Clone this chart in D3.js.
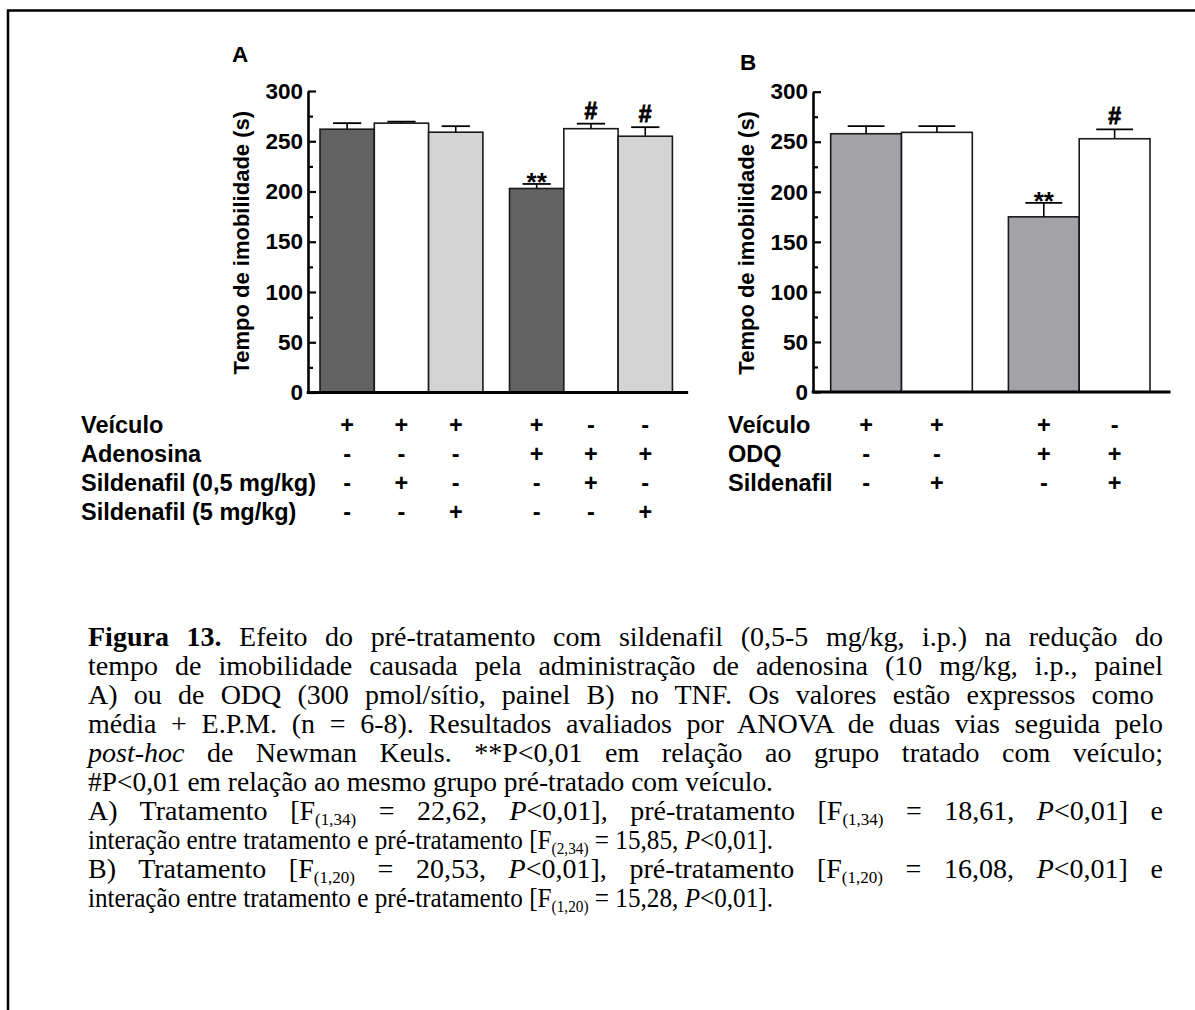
<!DOCTYPE html>
<html>
<head>
<meta charset="utf-8">
<script src="https://cdn.jsdelivr.net/npm/d3@7"></script>
<style>
  body { margin: 0; background: #fff; }
  svg { display: block; }
  .sans { font-family: "Liberation Sans", Arial, sans-serif; font-weight: bold; }
  .serif { font-family: "Liberation Serif", "Times New Roman", serif; white-space: pre; }
</style>
</head>
<body>
<svg id="fig" width="1195" height="1010"></svg>
<script>
// ---- Panel A: adenosine with sildenafil pre-treatment ----
const groupsA = ["Veículo", "Sildenafil 0,5", "Sildenafil 5", "Adenosina", "Adenosina + Sildenafil 0,5", "Adenosina + Sildenafil 5"];
const meansA  = [262, 268, 259, 203, 262.5, 255];
const semA    = [6, 1.5, 6, 4.5, 5, 9];
const blockA  = [0, 0, 0, 1, 1, 1];
const marksA  = ["", "", "", "**", "#", "#"];
const rowLabelsA = ["Veículo", "Adenosina", "Sildenafil (0,5 mg/kg)", "Sildenafil (5 mg/kg)"];
const signsA = [
  ["+", "+", "+", "+", "-", "-"],
  ["-", "-", "-", "+", "+", "+"],
  ["-", "+", "-", "-", "+", "-"],
  ["-", "-", "+", "-", "-", "+"]
];

// ---- Panel B: ODQ with sildenafil pre-treatment ----
const groupsB = ["Veículo", "Sildenafil", "ODQ", "ODQ + Sildenafil"];
const meansB  = [258, 259.4, 175, 253];
const semB    = [7.7, 6.3, 14, 9.4];
const blockB  = [0, 0, 1, 1];
const marksB  = ["", "", "**", "#"];
const rowLabelsB = ["Veículo", "ODQ", "Sildenafil"];
const signsB = [
  ["+", "+", "+", "-"],
  ["-", "-", "+", "+"],
  ["-", "+", "-", "+"]
];

// ---- Shared axis ticks ----
const majorTicks = [0, 50, 100, 150, 200, 250, 300];
const minorTicks = [25, 75, 125, 175, 225, 275];
const yTitle = "Tempo de imobilidade (s)";

// ---- Figure caption ----
const captionLines = [
  { justify: true,  segs: [["Figura 13.", "b"], [" Efeito do pré-tratamento com sildenafil (0,5-5 mg/kg, i.p.) na redução do", ""]] },
  { justify: true,  segs: [["tempo de imobilidade causada pela administração de adenosina (10 mg/kg, i.p., painel", ""]] },
  { justify: true,  segs: [["A)  ou de ODQ (300 pmol/sítio, painel B) no TNF. Os valores estão expressos como", ""]] },
  { justify: true,  segs: [["média + E.P.M. (n = 6-8). Resultados avaliados por ANOVA de duas vias seguida pelo", ""]] },
  { justify: true,  segs: [["post-hoc", "i"], [" de Newman Keuls. **P<0,01 em relação ao grupo tratado com veículo;", ""]] },
  { justify: false, segs: [["#P<0,01 em relação ao mesmo grupo pré-tratado com veículo.", ""]] },
  { justify: true,  segs: [["A) Tratamento [F", ""], ["(1,34)", "sub"], [" = 22,62, ", ""], ["P", "i"], ["<0,01], pré-tratamento [F", ""], ["(1,34)", "sub"], [" = 18,61, ", ""], ["P", "i"], ["<0,01] e", ""]] },
  { justify: false, segs: [["interação entre tratamento e pré-tratamento [F", ""], ["(2,34)", "sub"], [" = 15,85, ", ""], ["P", "i"], ["<0,01].", ""]] },
  { justify: true,  segs: [["B) Tratamento [F", ""], ["(1,20)", "sub"], [" = 20,53, ", ""], ["P", "i"], ["<0,01], pré-tratamento [F", ""], ["(1,20)", "sub"], [" = 16,08, ", ""], ["P", "i"], ["<0,01] e", ""]] },
  { justify: false, segs: [["interação entre tratamento e pré-tratamento [F", ""], ["(1,20)", "sub"], [" = 15,28, ", ""], ["P", "i"], ["<0,01].", ""]] }
];

const svg = d3.select("#fig");

// outer frame (top and left rules)
svg.append("path")
  .attr("d", "M1195,10.5 H8 V1010")
  .attr("fill", "none").attr("stroke", "#000").attr("stroke-width", 2.5);

function drawPanel(p) {
  const g = svg.append("g");
  const n = p.means.length;
  const slots = p.means.map((_, i) => i + p.block[i] * p.gap);
  const span = n + p.gap * d3.max(p.block);
  const x = d3.scaleLinear().domain([0, span]).range([p.barLeft, p.barLeft + span * p.barW]);
  const y = d3.scaleLinear().domain([0, 300]).range([p.y0, p.y300]);

  // bars
  g.selectAll("rect.bar").data(p.means).join("rect")
    .attr("class", "bar")
    .attr("x", (d, i) => x(slots[i]))
    .attr("width", x(1) - x(0))
    .attr("y", d => y(d))
    .attr("height", d => y(0) - y(d))
    .attr("fill", (d, i) => p.fills[i])
    .attr("stroke", "#1a1a1a").attr("stroke-width", 1.6);

  // error bars (mean + SEM) and significance marks
  const capW = (x(1) - x(0)) * 0.52;
  p.means.forEach((m, i) => {
    const cx = x(slots[i] + 0.5);
    const top = y(m + p.sem[i]);
    g.append("line").attr("x1", cx).attr("x2", cx)
      .attr("y1", y(m)).attr("y2", top)
      .attr("stroke", "#000").attr("stroke-width", 1.6);
    g.append("line").attr("x1", cx - capW / 2).attr("x2", cx + capW / 2)
      .attr("y1", top).attr("y2", top)
      .attr("stroke", "#000").attr("stroke-width", 1.8);
    if (p.marks[i]) {
      const isStar = p.marks[i].startsWith("*");
      g.append("text").attr("class", "sans")
        .attr("x", cx).attr("y", top + (isStar ? 7 : -5))
        .attr("text-anchor", "middle")
        .attr("font-size", isStar ? 26 : 23)
        .attr("stroke", isStar ? "none" : "#000").attr("stroke-width", 0.8)
        .text(p.marks[i]);
    }
  });

  // y axis: major ticks with labels, minor ticks without
  const axMajor = d3.axisLeft(y).tickValues(majorTicks)
    .tickSizeInner(-8).tickSizeOuter(0).tickPadding(5);
  const axMinor = d3.axisLeft(y).tickValues(minorTicks)
    .tickSizeInner(-5).tickSizeOuter(0).tickFormat("");
  const ya = g.append("g").attr("transform", `translate(${p.axisX},0)`).call(axMajor);
  ya.select(".domain").attr("stroke-width", 2.6);
  ya.selectAll(".tick line").attr("stroke-width", 2.2);
  ya.selectAll(".tick text").attr("class", "sans").attr("font-size", 22.5).attr("fill", "#000");
  const ym = g.append("g").attr("transform", `translate(${p.axisX},0)`).call(axMinor);
  ym.select(".domain").remove();
  ym.selectAll(".tick line").attr("stroke-width", 2.2);

  // x baseline
  g.append("line")
    .attr("x1", p.axisX - 1.3).attr("x2", x(span + 0.29))
    .attr("y1", y(0)).attr("y2", y(0))
    .attr("stroke", "#000").attr("stroke-width", 2.8);

  // y title
  g.append("text").attr("class", "sans")
    .attr("font-size", 22)
    .attr("text-anchor", "middle")
    .attr("transform", `translate(${p.titleX},${(y(0) + y(300)) / 2 + 1}) rotate(-90)`)
    .attr("dy", "0.35em")
    .text(yTitle);

  // panel letter
  g.append("text").attr("class", "sans").attr("font-size", 22.5)
    .attr("x", p.letterX).attr("y", p.letterY).text(p.letter);

  // treatment table
  p.rowLabels.forEach((lab, r) => {
    const by = p.tableY + r * 29;
    g.append("text").attr("class", "sans").attr("font-size", 23.5)
      .attr("x", p.tableX).attr("y", by).text(lab);
    p.signs[r].forEach((s, i) => {
      g.append("text").attr("class", "sans").attr("font-size", 23.5)
        .attr("text-anchor", "middle")
        .attr("x", x(slots[i] + 0.5)).attr("y", by).text(s);
    });
  });
}

drawPanel({
  means: meansA, sem: semA, block: blockA, marks: marksA,
  fills: ["#626262", "#ffffff", "#d4d4d4", "#626262", "#ffffff", "#d4d4d4"],
  gap: 0.49, barLeft: 320, barW: 54.3, axisX: 308, y0: 392.5, y300: 91,
  titleX: 241, letter: "A", letterX: 232, letterY: 62,
  rowLabels: rowLabelsA, signs: signsA, tableX: 81, tableY: 433
});

drawPanel({
  means: meansB, sem: semB, block: blockB, marks: marksB,
  fills: ["#a3a2a7", "#ffffff", "#a3a2a7", "#ffffff"],
  gap: 0.51, barLeft: 830.7, barW: 70.8, axisX: 813, y0: 392, y300: 91.7,
  titleX: 746.5, letter: "B", letterX: 740, letterY: 70,
  rowLabels: rowLabelsB, signs: signsB, tableX: 728, tableY: 433
});

// caption, justified between the text margins
const capLeft = 88, capRight = 1163, lastLineRight = 773;
const cap = svg.append("g").attr("class", "serif").attr("font-size", 28).attr("fill", "#000");
captionLines.forEach((line, li) => {
  const t = cap.append("text").attr("x", capLeft).attr("y", 646 + li * 29);
  let shifted = false;
  line.segs.forEach(([s, st]) => {
    const ts = t.append("tspan").text(s);
    if (st === "b") ts.attr("font-weight", "bold");
    if (st === "i") ts.attr("font-style", "italic");
    if (st === "sub") { ts.attr("font-size", 17).attr("dy", 5); shifted = true; }
    else if (shifted) { ts.attr("dy", -5); shifted = false; }
  });
  const natural = t.node().getComputedTextLength();
  if (line.justify) {
    const spaces = (t.text().match(/ /g) || []).length;
    t.style("word-spacing", ((capRight - capLeft - natural) / spaces) + "px");
  } else {
    t.attr("textLength", lastLineRight - capLeft).attr("lengthAdjust", "spacingAndGlyphs");
  }
});
</script>
</body>
</html>
